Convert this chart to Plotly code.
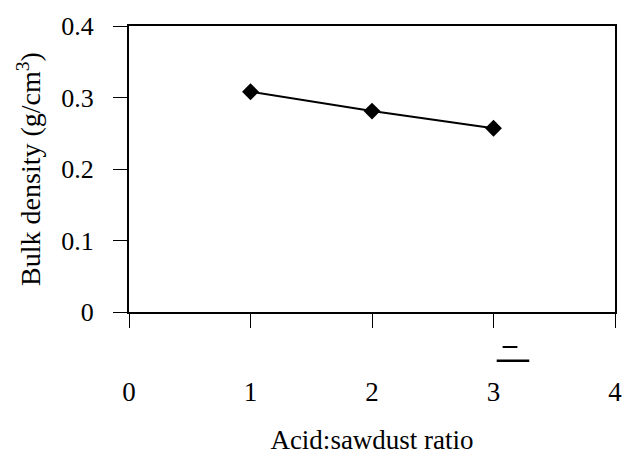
import plotly.graph_objects as go

ratio = [1, 2, 3]
bulk_density = [0.308, 0.281, 0.257]
x_ticks = [0, 1, 2, 3, 4]
y_ticks = [0, 0.1, 0.2, 0.3, 0.4]
y_tick_labels = ["0", "0.1", "0.2", "0.3", "0.4"]

SERIF = "Liberation Serif, Times New Roman, serif"

fig = go.Figure()
fig.add_trace(go.Scatter(
    x=ratio, y=bulk_density, mode="lines+markers",
    line=dict(color="black", width=2),
    marker=dict(symbol="diamond", size=13, color="black"),
    showlegend=False,
))

fig.update_layout(
    width=634, height=463,
    margin=dict(l=129, r=12, t=18, b=151),
    paper_bgcolor="white", plot_bgcolor="white",
    font=dict(family=SERIF, color="black"),
    xaxis=dict(
        range=[0, 4], tickvals=x_ticks, ticktext=[str(v) for v in x_ticks],
        ticks="outside", ticklen=14, tickwidth=1, tickcolor="black",
        showline=True, linecolor="black", linewidth=2, mirror=True,
        showgrid=False, zeroline=False,
        tickfont=dict(family=SERIF, size=27),
        ticklabelstandoff=41,
        title=dict(text="Acid:sawdust ratio", font=dict(family=SERIF, size=27), standoff=24),
    ),
    yaxis=dict(
        range=[0, 0.4], tickvals=y_ticks, ticktext=y_tick_labels,
        ticks="outside", ticklen=14, tickwidth=1, tickcolor="black",
        showline=True, linecolor="black", linewidth=2, mirror=True,
        showgrid=False, zeroline=False,
        tickfont=dict(family=SERIF, size=26),
        ticklabelstandoff=14,
        title=dict(text="Bulk density (g/cm<sup>3</sup>)", font=dict(family=SERIF, size=28), standoff=12),
    ),
)

# scan artifact marks below the x-axis near tick 3
fig.add_shape(type="line", xref="paper", yref="paper",
              x0=(508-129)/493, x1=(523-129)/493, y0=(312-348)/294, y1=(312-348)/294,
              line=dict(color="black", width=2))
fig.add_shape(type="line", xref="paper", yref="paper",
              x0=(502-129)/493, x1=(535-129)/493, y0=(312-362)/294, y1=(312-362)/294,
              line=dict(color="black", width=2.5))

fig.write_html("out.html")
